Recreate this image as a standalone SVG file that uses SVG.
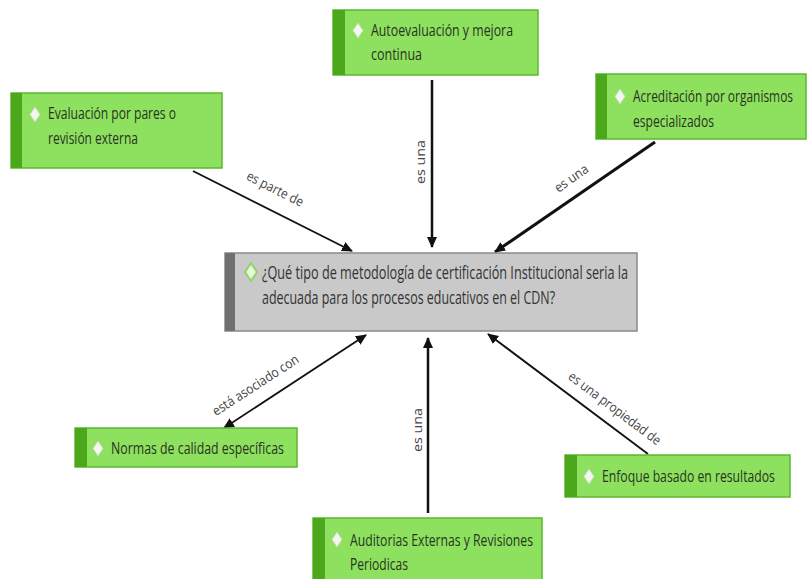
<svg xmlns="http://www.w3.org/2000/svg" width="807" height="579" viewBox="0 0 807 579">
<style>
.g{fill:#8de15f;stroke:#5cb82e;stroke-width:1.5}
.gs{fill:#4aa81a}
.c{fill:#c9c9c9;stroke:#8a8a8a;stroke-width:1.5}
.cs{fill:#707070}
.t{font-family:"Open Sans","Liberation Sans",sans-serif;font-size:16.5px;fill:#2a3323}
.ct{font-family:"Open Sans","Liberation Sans",sans-serif;font-size:18.5px;fill:#333}
.d{fill:#f2f7ef;stroke:#c8dcbc;stroke-width:1}
.cd{fill:#e6f5dc;stroke:#8fd46a;stroke-width:2}
.l{font-family:"Open Sans","Liberation Sans",sans-serif;font-size:13.5px;fill:#444}
.ln{stroke:#111;fill:none}
</style>
<defs>
<marker id="ah" markerUnits="userSpaceOnUse" markerWidth="12" markerHeight="12" viewBox="0 0 12 12" refX="10" refY="6" orient="auto">
<path d="M0,1 L11,6 L0,11 Z" fill="#111"/>
</marker>
<marker id="as" markerUnits="userSpaceOnUse" markerWidth="12" markerHeight="12" viewBox="0 0 12 12" refX="2" refY="6" orient="auto">
<path d="M12,1 L1,6 L12,11 Z" fill="#111"/>
</marker>
</defs>
<rect width="807" height="579" fill="#fff"/>
<g id="connectors">
<line class="ln" x1="193" y1="171" x2="352" y2="251" stroke-width="1.8" marker-end="url(#ah)"/>
<line class="ln" x1="432" y1="80" x2="432" y2="247" stroke-width="2.5" marker-end="url(#ah)"/>
<line class="ln" x1="655" y1="142" x2="495" y2="252" stroke-width="3" marker-end="url(#ah)"/>
<line class="ln" x1="224" y1="428" x2="366" y2="335" stroke-width="1.8" marker-start="url(#as)" marker-end="url(#ah)"/>
<line class="ln" x1="428" y1="513" x2="428" y2="338" stroke-width="2.5" marker-end="url(#ah)"/>
<line class="ln" x1="648" y1="454" x2="488" y2="334" stroke-width="1.8" marker-end="url(#ah)"/>
<text class="l" transform="translate(273,193) rotate(27)" text-anchor="middle" textLength="62" lengthAdjust="spacingAndGlyphs">es parte de</text>
<text class="l" transform="translate(425,162) rotate(-90)" text-anchor="middle" textLength="44" lengthAdjust="spacingAndGlyphs">es una</text>
<text class="l" transform="translate(574,182) rotate(-35)" text-anchor="middle" textLength="38" lengthAdjust="spacingAndGlyphs">es una</text>
<text class="l" transform="translate(258,389) rotate(-33)" text-anchor="middle" textLength="100" lengthAdjust="spacingAndGlyphs">está asociado con</text>
<text class="l" transform="translate(422,430) rotate(-90)" text-anchor="middle" textLength="44" lengthAdjust="spacingAndGlyphs">es una</text>
<text class="l" transform="translate(612,412) rotate(37)" text-anchor="middle" textLength="112" lengthAdjust="spacingAndGlyphs">es una propiedad de</text>
</g>
<g id="n1">
<rect class="g" x="11" y="93" width="211" height="75"/>
<rect class="gs" x="11" y="93" width="11" height="75"/>
<path class="d" d="M35,107 L40,114.5 L35,122 L30,114.5 Z"/>
<text class="t" x="48" y="119" textLength="128" lengthAdjust="spacingAndGlyphs">Evaluación por pares o</text>
<text class="t" x="48" y="144" textLength="90" lengthAdjust="spacingAndGlyphs">revisión externa</text>
</g>
<g id="n2">
<rect class="g" x="333" y="10" width="205" height="65"/>
<rect class="gs" x="333" y="10" width="12" height="65"/>
<path class="d" d="M358,23 L363,30.5 L358,38 L353,30.5 Z"/>
<text class="t" x="371" y="36" textLength="142" lengthAdjust="spacingAndGlyphs">Autoevaluación y mejora</text>
<text class="t" x="371" y="60" textLength="51" lengthAdjust="spacingAndGlyphs">continua</text>
</g>
<g id="n3">
<rect class="g" x="596" y="74" width="210" height="65"/>
<rect class="gs" x="596" y="74" width="11" height="65"/>
<path class="d" d="M620,89 L625,96.5 L620,104 L615,96.5 Z"/>
<text class="t" transform="translate(633,102) scale(0.7,1)" textLength="228.6" lengthAdjust="spacingAndGlyphs">Acreditación por organismos</text>
<text class="t" x="633" y="127" textLength="81" lengthAdjust="spacingAndGlyphs">especializados</text>
</g>
<g id="center">
<rect class="c" x="225" y="253" width="412" height="78"/>
<rect class="cs" x="225" y="253" width="10" height="78"/>
<path class="cd" d="M251,263 L257,272 L251,281 L245,272 Z"/>
<text class="ct" x="262" y="279" textLength="366" lengthAdjust="spacingAndGlyphs">¿Qué tipo de metodología de certificación Institucional seria la</text>
<text class="ct" x="262" y="304" textLength="293" lengthAdjust="spacingAndGlyphs">adecuada para los procesos educativos en el CDN?</text>
</g>
<g id="n4">
<rect class="g" x="75" y="428" width="222" height="39"/>
<rect class="gs" x="75" y="428" width="12" height="39"/>
<path class="d" d="M98,441 L103,448.5 L98,456 L93,448.5 Z"/>
<text class="t" x="111" y="454" textLength="173" lengthAdjust="spacingAndGlyphs">Normas de calidad específicas</text>
</g>
<g id="n5">
<rect class="g" x="565" y="455" width="225" height="42"/>
<rect class="gs" x="565" y="455" width="12" height="42"/>
<path class="d" d="M589,469 L594,476.5 L589,484 L584,476.5 Z"/>
<text class="t" transform="translate(602,482) scale(0.7,1)" textLength="247" lengthAdjust="spacingAndGlyphs">Enfoque basado en resultados</text>
</g>
<g id="n6">
<rect class="g" x="313" y="518" width="229" height="70"/>
<rect class="gs" x="313" y="518" width="12" height="70"/>
<path class="d" d="M337,532 L342,539.5 L337,547 L332,539.5 Z"/>
<text class="t" x="350" y="546" textLength="183" lengthAdjust="spacingAndGlyphs">Auditorias Externas y Revisiones</text>
<text class="t" x="350" y="570" textLength="58" lengthAdjust="spacingAndGlyphs">Periodicas</text>
</g>
</svg>
